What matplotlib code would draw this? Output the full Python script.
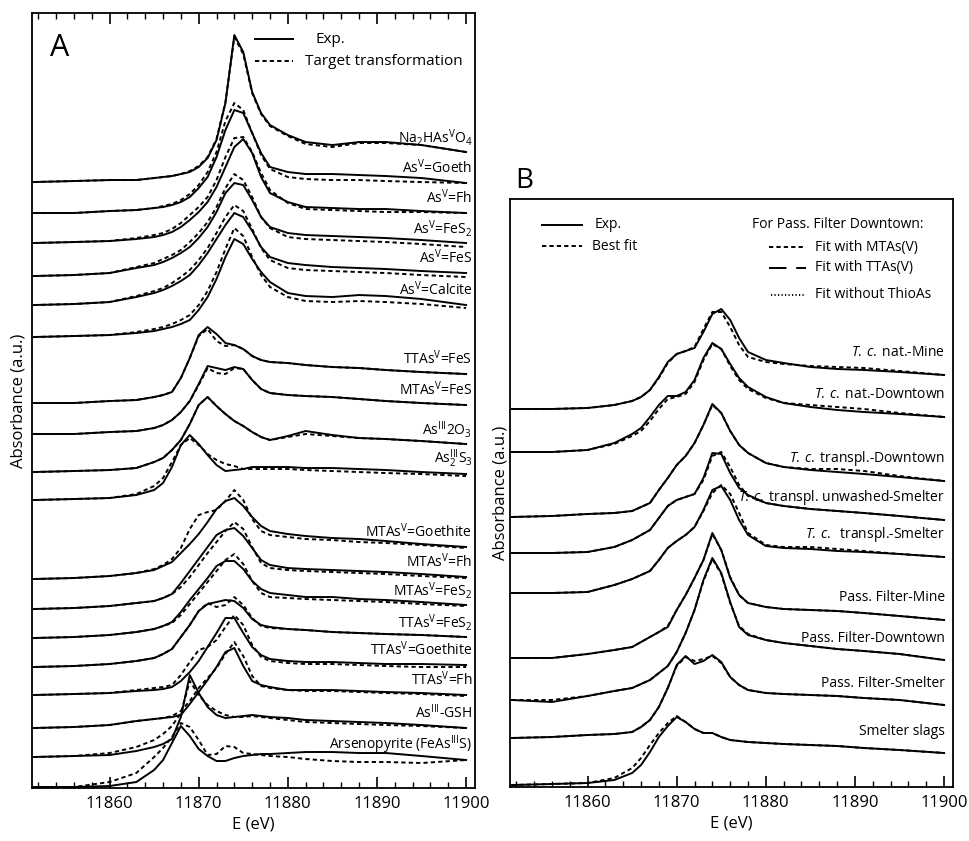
import numpy as np
import matplotlib
matplotlib.use('Agg')
import matplotlib.pyplot as plt
from matplotlib.ticker import MultipleLocator

plt.rcParams['font.family'] = ['Open Sans', 'DejaVu Sans']
plt.rcParams['mathtext.fontset'] = 'custom'
plt.rcParams['mathtext.rm'] = 'Open Sans'
plt.rcParams['mathtext.it'] = 'Open Sans:italic'
plt.rcParams['mathtext.bf'] = 'Open Sans:bold'

# --- energy grid (eV), shared by every spectrum ---
E = [11851.5, 11856, 11860, 11863, 11865, 11866, 11867, 11868, 11869, 11870, 11871, 11872,
     11873, 11874, 11875, 11876, 11877, 11878, 11880, 11882, 11885, 11888, 11891, 11895, 11900]

# --- panel A: reference spectra (height above own pre-edge, a.u.) ---
na_exp = [0, 1, 2, 2, 4, 5, 6, 8, 10, 15, 24, 42, 79, 147, 130, 90, 69, 57, 47, 40, 37, 40, 40, 37, 30]
na_fit = [0, 1, 2, 2, 4, 5, 6, 8, 11, 16, 25, 43, 80, 145, 128, 89, 68, 56, 46, 38, 35, 39, 39, 37, 30]
goe_exp = [0, 0, 2, 3, 5, 6, 8, 11, 16, 25, 36, 56, 83, 103, 100, 80, 60, 46, 41, 39, 39, 38, 37, 35, 30]
goe_fit = [0, 0, 2, 3, 5, 7, 9, 13, 19, 28, 41, 61, 92, 110, 103, 80, 58, 44, 36, 34, 33, 33, 32, 31, 30]
fh_exp = [0, 1, 2, 4, 6, 8, 11, 16, 23, 31, 41, 56, 76, 96, 104, 90, 66, 50, 41, 36, 35, 34, 34, 32, 30]
fh_fit = [0, 1, 2, 5, 8, 10, 14, 20, 28, 36, 46, 63, 86, 105, 106, 91, 70, 53, 40, 34, 33, 32, 31, 31, 30]
fes2_exp = [0, 1, 3, 8, 11, 14, 18, 23, 29, 38, 49, 64, 83, 93, 91, 76, 59, 49, 43, 41, 40, 39, 38, 36, 33]
fes2_fit = [0, 1, 3, 9, 13, 17, 21, 26, 34, 43, 54, 69, 88, 102, 96, 79, 59, 48, 39, 37, 36, 35, 34, 32, 29]
fes_exp = [0, 1, 3, 8, 12, 15, 19, 24, 30, 40, 52, 66, 80, 92, 88, 74, 58, 48, 42, 40, 38, 37, 36, 34, 32]
fes_fit = [0, 1, 3, 9, 14, 17, 22, 28, 35, 45, 57, 72, 88, 100, 94, 76, 57, 45, 37, 35, 34, 33, 32, 30, 28]
calc_exp = [0, 1, 2, 4, 6, 8, 10, 13, 17, 27, 40, 58, 80, 98, 93, 78, 65, 55, 44, 41, 40, 42, 41, 38, 32]
calc_fit = [0, 1, 2, 5, 8, 10, 13, 17, 22, 32, 46, 65, 88, 109, 101, 80, 62, 50, 40, 36, 35, 36, 35, 33, 29]
tta_fes_exp = [0, 0, 2, 3, 6, 8, 11, 25, 45, 68, 76, 69, 60, 58, 54, 47, 43, 41, 40, 38, 36, 35, 33, 31, 29]
tta_fes_fit = [0, 0, 2, 3, 6, 8, 11, 25, 45, 67, 74, 62, 57, 58, 54, 47, 43, 41, 40, 38, 36, 35, 33, 31, 29]
mta_fes_exp = [0, 0, 2, 3, 6, 9, 14, 22, 33, 50, 68, 66, 64, 67, 65, 54, 45, 41, 39, 38, 37, 35, 33, 31, 29]
mta_fes_fit = [0, 0, 2, 3, 6, 9, 14, 22, 33, 49, 66, 61, 60, 66, 65, 54, 45, 41, 39, 38, 37, 35, 33, 31, 29]
as2o3_exp = [0, 1, 2, 4, 10, 14, 22, 32, 48, 67, 75, 66, 58, 51, 46, 40, 35, 32, 36, 41, 37, 34, 33, 31, 28]
as2o3_fit = [0, 1, 2, 4, 10, 14, 22, 32, 48, 67, 75, 66, 58, 51, 46, 40, 35, 32, 35, 38, 36, 34, 33, 31, 28]
as2s3_exp = [0, 1, 2, 5, 10, 17, 33, 55, 65, 56, 45, 35, 29, 30, 31, 33, 33, 33, 33, 32, 32, 31, 30, 28, 26]
as2s3_fit = [0, 1, 2, 6, 14, 22, 38, 55, 62, 55, 46, 40, 36, 34, 31, 31, 31, 31, 31, 30, 29, 28, 27, 26, 24]
mta_goe_exp = [0, 1, 3, 6, 9, 13, 17, 26, 35, 45, 57, 70, 78, 81, 73, 62, 53, 48, 45, 43, 41, 40, 38, 35, 32]
mta_goe_fit = [0, 1, 3, 6, 10, 14, 20, 31, 50, 64, 67, 69, 78, 89, 79, 60, 48, 44, 42, 40, 39, 37, 36, 34, 31]
mta_fh_exp = [0, 1, 3, 6, 8, 11, 15, 26, 38, 50, 62, 74, 79, 81, 73, 61, 49, 44, 41, 40, 39, 38, 37, 35, 32]
mta_fh_fit = [0, 1, 3, 6, 8, 11, 15, 22, 32, 44, 56, 67, 78, 87, 80, 62, 46, 41, 39, 38, 37, 36, 35, 33, 31]
mta_fes2_exp = [0, 1, 3, 6, 9, 12, 16, 26, 38, 49, 60, 72, 77, 77, 69, 57, 49, 45, 43, 41, 41, 39, 38, 36, 33]
mta_fes2_fit = [0, 1, 3, 6, 9, 12, 15, 23, 34, 45, 56, 67, 78, 84, 74, 57, 45, 41, 40, 39, 38, 37, 36, 34, 32]
tta_fes2_exp = [0, 1, 3, 6, 9, 13, 18, 30, 42, 56, 63, 65, 67, 66, 59, 48, 42, 40, 38, 37, 35, 34, 33, 32, 30]
tta_fes2_fit = [0, 1, 3, 6, 9, 13, 18, 30, 42, 56, 64, 60, 62, 70, 62, 49, 41, 39, 38, 37, 35, 34, 33, 32, 30]
tta_goe_exp = [0, 1, 2, 4, 5, 6, 8, 14, 23, 34, 48, 62, 77, 77, 62, 48, 40, 36, 34, 33, 33, 32, 31, 31, 30]
tta_goe_fit = [0, 1, 2, 5, 7, 8, 10, 20, 33, 45, 48, 55, 68, 80, 70, 50, 38, 34, 32, 31, 31, 30, 29, 28, 28]
tta_fh_exp = [0, 1, 3, 7, 9, 10, 11, 13, 24, 36, 48, 61, 76, 80, 62, 47, 43, 41, 38, 38, 38, 37, 36, 35, 33]
tta_fh_fit = [0, 1, 3, 7, 9, 10, 12, 17, 27, 40, 50, 60, 74, 86, 72, 52, 42, 40, 38, 37, 37, 36, 35, 34, 32]
gsh_exp = [0, 1, 2, 6, 10, 13, 18, 40, 82, 64, 50, 42, 39, 40, 41, 42, 41, 40, 39, 37, 36, 35, 34, 32, 29]
gsh_fit = [0, 1, 4, 10, 17, 23, 31, 44, 76, 62, 52, 46, 42, 40, 40, 41, 40, 39, 37, 35, 34, 33, 32, 31, 29]
apy_exp = [0, 0, 1, 5, 17, 27, 44, 61, 51, 38, 31, 26, 26, 29, 31, 32, 33, 33, 34, 35, 35, 34, 34, 31, 27]
apy_fit = [0, 0, 5, 14, 30, 39, 50, 64, 60, 47, 32, 33, 41, 40, 34, 33, 32, 31, 30, 28, 26, 25, 25, 24, 27]

labels_a = ['Na$_2$HAs$^\\mathrm{V}$O$_4$', 'As$^\\mathrm{V}$=Goeth', 'As$^\\mathrm{V}$=Fh',
            'As$^\\mathrm{V}$=FeS$_2$', 'As$^\\mathrm{V}$=FeS', 'As$^\\mathrm{V}$=Calcite',
            'TTAs$^\\mathrm{V}$=FeS', 'MTAs$^\\mathrm{V}$=FeS', 'As$^\\mathrm{III}$2O$_3$',
            'As$^\\mathrm{III}_2$S$_3$', 'MTAs$^\\mathrm{V}$=Goethite', 'MTAs$^\\mathrm{V}$=Fh',
            'MTAs$^\\mathrm{V}$=FeS$_2$', 'TTAs$^\\mathrm{V}$=FeS$_2$', 'TTAs$^\\mathrm{V}$=Goethite',
            'TTAs$^\\mathrm{V}$=Fh', 'As$^\\mathrm{III}$-GSH', 'Arsenopyrite (FeAs$^\\mathrm{III}$S)']
offsets_a = [606, 575, 545, 512, 483, 451, 385, 354, 316, 288, 209, 179, 150, 121, 93, 60, 31, 1]
exp_a = [na_exp, goe_exp, fh_exp, fes2_exp, fes_exp, calc_exp, tta_fes_exp, mta_fes_exp,
         as2o3_exp, as2s3_exp, mta_goe_exp, mta_fh_exp, mta_fes2_exp, tta_fes2_exp,
         tta_goe_exp, tta_fh_exp, gsh_exp, apy_exp]
fit_a = [na_fit, goe_fit, fh_fit, fes2_fit, fes_fit, calc_fit, tta_fes_fit, mta_fes_fit,
         as2o3_fit, as2s3_fit, mta_goe_fit, mta_fh_fit, mta_fes2_fit, tta_fes2_fit,
         tta_goe_fit, tta_fh_fit, gsh_fit, apy_fit]

# --- panel B: samples ---
nat_mine_exp = [0, 0, 1, 4, 8, 12, 19, 32, 47, 55, 58, 61, 77, 95, 100, 89, 71, 57, 49, 46, 42, 40, 39, 37, 34]
nat_mine_fit = [0, 0, 1, 4, 8, 12, 19, 31, 46, 55, 58, 62, 80, 97, 97, 82, 64, 52, 47, 45, 43, 42, 41, 38, 34]
nat_dt_exp = [0, 0, 2, 9, 18, 24, 35, 47, 56, 56, 60, 72, 94, 109, 103, 88, 74, 65, 55, 49, 45, 42, 40, 38, 35]
nat_dt_fit = [0, 0, 2, 8, 16, 21, 31, 43, 53, 55, 58, 70, 92, 108, 103, 86, 72, 63, 54, 49, 47, 45, 43, 39, 35]
tr_dt_exp = [0, 1, 3, 4, 6, 10, 14, 27, 39, 52, 61, 74, 92, 113, 104, 86, 72, 64, 54, 50, 47, 45, 43, 40, 36]
tr_dt_fit = [0, 1, 3, 4, 6, 10, 14, 27, 39, 52, 61, 74, 92, 112, 104, 86, 72, 64, 54, 50, 48, 48, 46, 41, 36]
tr_unw_exp = [0, 0, 1, 6, 13, 18, 23, 35, 47, 53, 56, 59, 75, 100, 99, 80, 65, 58, 50, 47, 44, 42, 40, 37, 33]
tr_unw_fit = [0, 0, 1, 6, 13, 18, 23, 35, 47, 53, 56, 59, 73, 97, 101, 86, 68, 57, 50, 47, 44, 42, 40, 37, 33]
tr_sm_exp = [0, 0, 1, 8, 14, 18, 22, 33, 45, 52, 58, 66, 83, 103, 107, 93, 73, 58, 47, 45, 44, 42, 41, 39, 36]
tr_sm_fit = [0, 0, 1, 8, 14, 18, 22, 33, 45, 52, 58, 66, 82, 100, 108, 99, 80, 60, 48, 46, 46, 44, 42, 39, 36]
pf_mine_exp = [0, 0, 4, 8, 11, 16, 21, 26, 31, 48, 63, 80, 98, 125, 108, 80, 63, 55, 51, 49, 48, 47, 45, 42, 38]
pf_mine_fit = [0, 0, 4, 8, 11, 16, 21, 26, 32, 48, 63, 80, 98, 124, 108, 81, 63, 55, 51, 49, 48, 47, 45, 42, 38]
pf_dt_exp = [0, -2, 4, 9, 12, 16, 20, 27, 34, 48, 67, 90, 120, 142, 127, 98, 73, 65, 60, 57, 54, 51, 49, 46, 40]
pf_dt_fit = [0, 0, 4, 9, 12, 16, 20, 27, 34, 48, 67, 90, 119, 141, 126, 97, 74, 66, 60, 57, 54, 51, 49, 46, 40]
pf_sm_exp = [0, 1, 3, 4, 6, 11, 18, 31, 50, 73, 82, 74, 77, 83, 76, 61, 53, 48, 45, 44, 43, 42, 40, 38, 33]
pf_sm_fit = [0, 1, 3, 4, 6, 11, 18, 31, 50, 72, 81, 77, 79, 82, 75, 61, 53, 48, 45, 44, 43, 42, 40, 38, 33]
slag_exp = [0, 1, 2, 5, 12, 20, 33, 48, 59, 68, 63, 56, 52, 52, 48, 45, 44, 43, 42, 41, 40, 39, 37, 35, 32]
slag_fit = [0, 1, 2, 7, 17, 27, 40, 52, 62, 69, 63, 56, 52, 52, 48, 45, 44, 43, 42, 41, 40, 39, 37, 35, 32]

labels_b = ['$\\mathit{T.\\,c.}$ nat.-Mine', '$\\mathit{T.\\,c.}$ nat.-Downtown',
            '$\\mathit{T.\\,c.}$ transpl.-Downtown', '$\\mathit{T.\\,c.}$ transpl. unwashed-Smelter',
            '$\\mathit{T.\\,c.}$  transpl.-Smelter', 'Pass. Filter-Mine', 'Pass. Filter-Downtown',
            'Pass. Filter-Smelter', 'Smelter slags']
offsets_b = [378, 335, 270, 234, 194, 129, 87, 49, 2]
exp_b = [nat_mine_exp, nat_dt_exp, tr_dt_exp, tr_unw_exp, tr_sm_exp, pf_mine_exp, pf_dt_exp, pf_sm_exp, slag_exp]
fit_b = [nat_mine_fit, nat_dt_fit, tr_dt_fit, tr_unw_fit, tr_sm_fit, pf_mine_fit, pf_dt_fit, pf_sm_fit, slag_fit]

LW = 1.4
DASH = (0, (2.2, 1.6))

fig = plt.figure(figsize=(9.7, 8.41), dpi=100)
ax_a = fig.add_axes([0.033, 0.063, 0.4567, 0.9215])
ax_b = fig.add_axes([0.5258, 0.0642, 0.4567, 0.6992])


def style_axis(ax, top_ticks):
    ax.set_xlim(11851.3, 11901)
    ax.xaxis.set_major_locator(MultipleLocator(10))
    ax.xaxis.set_minor_locator(MultipleLocator(2))
    ax.tick_params(axis='x', which='major', direction='in', length=8, width=1.2,
                   top=top_ticks, labelsize=12, pad=6)
    ax.tick_params(axis='x', which='minor', direction='in', length=4, width=1.0, top=top_ticks)
    ax.set_yticks([])
    for s in ax.spines.values():
        s.set_linewidth(1.3)
    ax.set_xlabel('E (eV)', fontsize=12, labelpad=3)


# panel A
for lab, off, ye, yf in zip(labels_a, offsets_a, exp_a, fit_a):
    ax_a.plot(E, np.array(ye) + off, color='black', lw=LW)
    ax_a.plot(E, np.array(yf) + off, color='black', lw=LW, linestyle=DASH)
    ax_a.text(11900.7, off + ye[-1] + 15, lab, ha='right', va='center', fontsize=10)
ax_a.set_ylim(0, 775)
style_axis(ax_a, True)
ax_a.set_ylabel('Absorbance (a.u.)', fontsize=12, labelpad=4)
ax_a.text(0.04, 0.955, 'A', transform=ax_a.transAxes, fontsize=22, va='center')
ax_a.plot([0.503, 0.589], [0.966, 0.966], transform=ax_a.transAxes, color='black', lw=LW)
ax_a.plot([0.503, 0.589], [0.938, 0.938], transform=ax_a.transAxes, color='black', lw=LW, linestyle=DASH)
ax_a.text(0.639, 0.966, 'Exp.', transform=ax_a.transAxes, fontsize=11, va='center')
ax_a.text(0.616, 0.938, 'Target transformation', transform=ax_a.transAxes, fontsize=11, va='center')

# panel B
for lab, off, ye, yf in zip(labels_b, offsets_b, exp_b, fit_b):
    ax_b.plot(E, np.array(ye) + off, color='black', lw=LW)
    ax_b.plot(E, np.array(yf) + off, color='black', lw=LW, linestyle=DASH)
    ax_b.text(11900.1, off + ye[-1] + 22, lab, ha='right', va='center', fontsize=10)
ax_b.set_ylim(0, 588)
style_axis(ax_b, False)
ax_b.set_ylabel('Absorbance (a.u.)', fontsize=12, labelpad=1)
fig.text(0.531, 0.785, 'B', fontsize=20, va='center')

tb = ax_b.transAxes
ax_b.plot([0.072, 0.163], [0.956, 0.956], transform=tb, color='black', lw=LW)
ax_b.plot([0.072, 0.163], [0.920, 0.920], transform=tb, color='black', lw=LW, linestyle=DASH)
ax_b.text(0.192, 0.956, 'Exp.', transform=tb, fontsize=10, va='center')
ax_b.text(0.185, 0.920, 'Best fit', transform=tb, fontsize=10, va='center')
ax_b.text(0.546, 0.956, 'For Pass. Filter Downtown:', transform=tb, fontsize=10, va='center')
ax_b.plot([0.584, 0.668], [0.918, 0.918], transform=tb, color='black', lw=LW, linestyle=DASH)
ax_b.plot([0.584, 0.668], [0.883, 0.883], transform=tb, color='black', lw=LW, linestyle=(0, (9, 5)))
ax_b.plot([0.590, 0.668], [0.837, 0.837], transform=tb, color='black', lw=LW, linestyle=(0, (0.6, 1.2)))
ax_b.text(0.688, 0.918, 'Fit with MTAs(V)', transform=tb, fontsize=10, va='center')
ax_b.text(0.688, 0.883, 'Fit with TTAs(V)', transform=tb, fontsize=10, va='center')
ax_b.text(0.688, 0.837, 'Fit without ThioAs', transform=tb, fontsize=10, va='center')

fig.savefig('out.png', dpi=100)
